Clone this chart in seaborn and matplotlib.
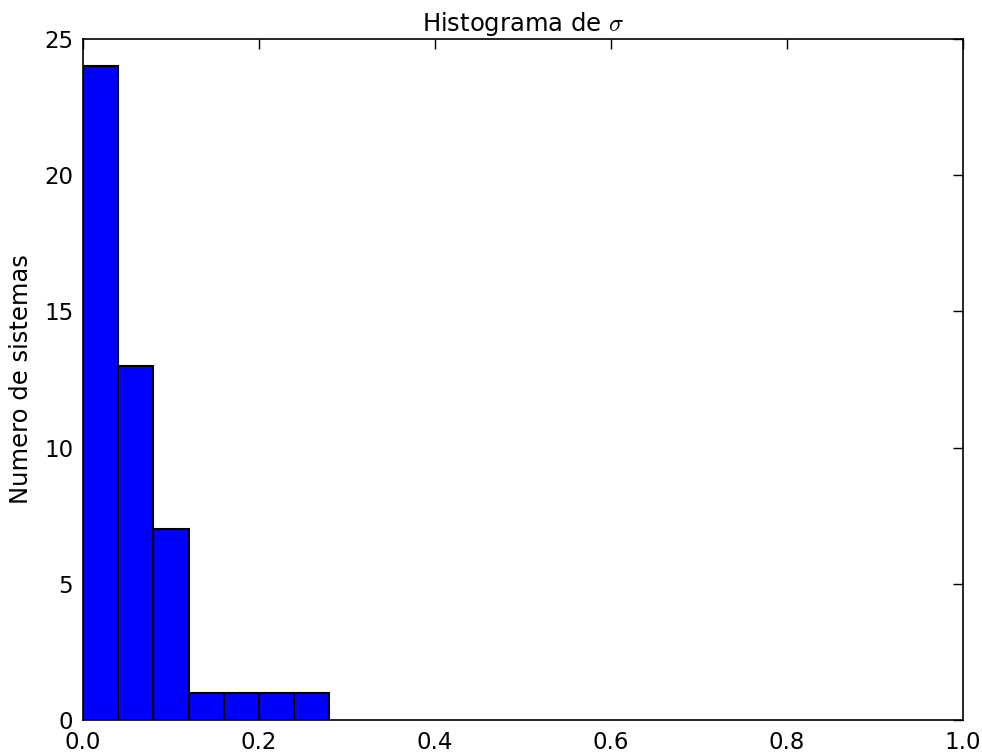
import matplotlib
matplotlib.use("Agg")
import matplotlib.pyplot as plt
import seaborn as sns
import numpy as np
import pandas as pd

bin_edges = [0.0, 0.04, 0.08, 0.12, 0.16, 0.20, 0.24, 0.28]
counts = [24, 13, 7, 1, 1, 1, 1]
x_ticks = [0.0, 0.2, 0.4, 0.6, 0.8, 1.0]
y_ticks = [0, 5, 10, 15, 20, 25]

sns.set_style("white")
plt.rcParams['font.family'] = ['DejaVu Sans']
plt.rcParams['mathtext.fontset'] = 'cm'
plt.rcParams['text.color'] = 'black'
plt.rcParams['axes.labelcolor'] = 'black'

centers = [(bin_edges[i] + bin_edges[i + 1]) / 2 for i in range(len(counts))]
df = pd.DataFrame({"sigma": centers, "n": counts})

fig = plt.figure(figsize=(9.82, 7.56), dpi=100)
ax = fig.add_axes([0.0845, 0.0476, 0.8962, 0.9008])
sns.histplot(data=df, x="sigma", weights="n", bins=bin_edges, ax=ax,
             color="#0000ff", alpha=1.0, edgecolor="black", linewidth=1.5)
ax.set_xlim(0, 1)
ax.set_ylim(0, 25)
ax.set_xticks(x_ticks)
ax.set_yticks(y_ticks)
ax.set_xticklabels([f"{v:.1f}" for v in x_ticks])
ax.set_yticklabels([str(v) for v in y_ticks])
ax.tick_params(direction="in", length=7, width=1, top=True, right=True,
               labelsize=16.5, colors="black")
ax.tick_params(axis="x", pad=8)
ax.tick_params(axis="y", pad=7)
for s in ax.spines.values():
    s.set_color("black")
    s.set_linewidth(1.2)
ax.set_xlabel("")
ax.set_ylabel("Numero de sistemas", fontsize=17.5, color="black", labelpad=8)
ax.set_title(r"Histograma de $\sigma$", fontsize=17.5, color="black", pad=6)
fig.savefig("out.png", dpi=100)
